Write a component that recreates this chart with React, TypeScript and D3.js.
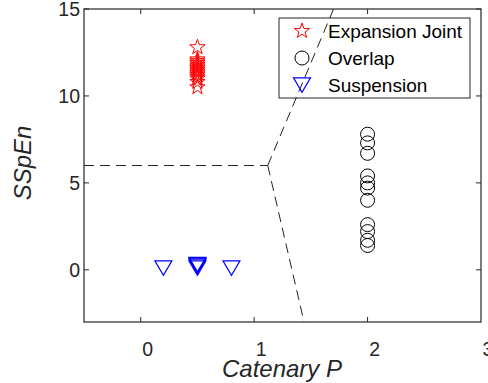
import React from "react";
import * as d3 from "d3";

// data
const expansionX = [0.5, 0.5, 0.5, 0.5, 0.5, 0.5, 0.5, 0.5, 0.5, 0.5, 0.5, 0.5, 0.5, 0.5, 0.5];
const expansionY = [12.8, 12.1, 12.0, 11.9, 11.8, 11.7, 11.6, 11.5, 11.4, 11.3, 11.2, 11.1, 11.0, 10.8, 10.5];
const overlapX = [2, 2, 2, 2, 2, 2, 2, 2, 2, 2, 2];
const overlapY = [7.8, 7.3, 6.7, 5.4, 5.0, 4.7, 4.0, 2.6, 2.2, 1.7, 1.4];
const suspensionX = [0.2, 0.5, 0.5, 0.5, 0.5, 0.8];
const suspensionY = [0.1, 0.1, 0.2, 0.25, 0.3, 0.1];
const boundaryLines = [
  [[-0.5, 6], [1.12, 6]],
  [[1.12, 6], [1.7, 15]],
  [[1.12, 6], [1.44, -3]],
];
const xTicks = [0, 1, 2, 3];
const yTicks = [0, 5, 10, 15];
const legendLabels = ["Expansion Joint", "Overlap", "Suspension"];

const W = 488, H = 383;
const m = { left: 84, right: 7, top: 9, bottom: 61 };
const font = "Arial, 'Liberation Sans', sans-serif";
const axisColor = "#262626";

const starPath = (r) => {
  const pts = [];
  for (let i = 0; i < 10; i++) {
    const rr = i % 2 === 0 ? r : r * 0.4;
    const a = -Math.PI / 2 + (i * Math.PI) / 5;
    pts.push([rr * Math.cos(a), rr * Math.sin(a)]);
  }
  return d3.line()(pts) + "Z";
};
const triPath = (s) => {
  const h = s * 0.85;
  return d3.line()([[-s / 2, -h / 2], [s / 2, -h / 2], [0, h / 2]]) + "Z";
};

const Marker = ({ kind, x, y }) => {
  if (kind === 0) return <path d={starPath(8)} transform={`translate(${x},${y})`} fill="none" stroke="#ff0000" strokeWidth={1} />;
  if (kind === 1) return <circle cx={x} cy={y} r={7} fill="none" stroke="#000" strokeWidth={1} />;
  return <path d={triPath(17)} transform={`translate(${x},${y})`} fill="none" stroke="#0000ff" strokeWidth={1.2} />;
};

export default function App() {
  const x = d3.scaleLinear().domain([-0.5, 3]).range([m.left, W - m.right]);
  const y = d3.scaleLinear().domain([-3, 15]).range([H - m.bottom, m.top]);
  const x0 = m.left, x1 = W - m.right, y0 = H - m.bottom, y1 = m.top;
  const line = d3.line().x((d) => x(d[0])).y((d) => y(d[1]));
  const tl = 5;

  return (
    <svg width={W} height={H} style={{ position: "absolute", left: 0, top: 0, background: "#fff" }}>
      {boundaryLines.map((l, i) => (
        <path key={i} d={line(l)} fill="none" stroke="#222" strokeWidth={1} strokeDasharray="10,6" />
      ))}
      {expansionY.map((v, i) => <Marker key={"e" + i} kind={0} x={x(expansionX[i])} y={y(v)} />)}
      {overlapY.map((v, i) => <Marker key={"o" + i} kind={1} x={x(overlapX[i])} y={y(v)} />)}
      {suspensionY.map((v, i) => <Marker key={"s" + i} kind={2} x={x(suspensionX[i])} y={y(v)} />)}

      <rect x={x0} y={y1} width={x1 - x0} height={y0 - y1} fill="none" stroke={axisColor} strokeWidth={1.2} />
      {xTicks.filter((t) => t < 3).map((t) => (
        <g key={"xt" + t}>
          <line x1={x(t)} x2={x(t)} y1={y0} y2={y0 - tl} stroke={axisColor} />
          <line x1={x(t)} x2={x(t)} y1={y1} y2={y1 + tl} stroke={axisColor} />
        </g>
      ))}
      {xTicks.map((t) => (
        <text key={"xl" + t} x={x(t) + 7} y={y0 + 34} textAnchor="middle" fontFamily={font} fontSize={19.5} fill={axisColor}>{t}</text>
      ))}
      {yTicks.map((t) => (
        <g key={"yt" + t}>
          <line x1={x0} x2={x0 + tl} y1={y(t)} y2={y(t)} stroke={axisColor} />
          <line x1={x1} x2={x1 - tl} y1={y(t)} y2={y(t)} stroke={axisColor} />
          <text x={x0 - 4} y={y(t)} dy="0.36em" textAnchor="end" fontFamily={font} fontSize={19.5} fill={axisColor}>{t}</text>
        </g>
      ))}
      <text x={282} y={H - 6} textAnchor="middle" fontFamily={font} fontSize={24} fontStyle="italic" fill={axisColor}>Catenary P</text>
      <text transform={`translate(31,163) rotate(-90)`} textAnchor="middle" fontFamily={font} fontSize={24} fontStyle="italic" fill={axisColor}>SSpEn</text>

      <g>
        <rect x={279} y={18} width={191} height={80} fill="none" stroke={axisColor} strokeWidth={1} />
        {legendLabels.map((lab, i) => (
          <g key={lab}>
            <Marker kind={i} x={302} y={31 + i * 27} />
            <text x={328} y={31 + i * 27} dy="0.36em" fontFamily={font} fontSize={19} fill="#000">{lab}</text>
          </g>
        ))}
      </g>
    </svg>
  );
}
